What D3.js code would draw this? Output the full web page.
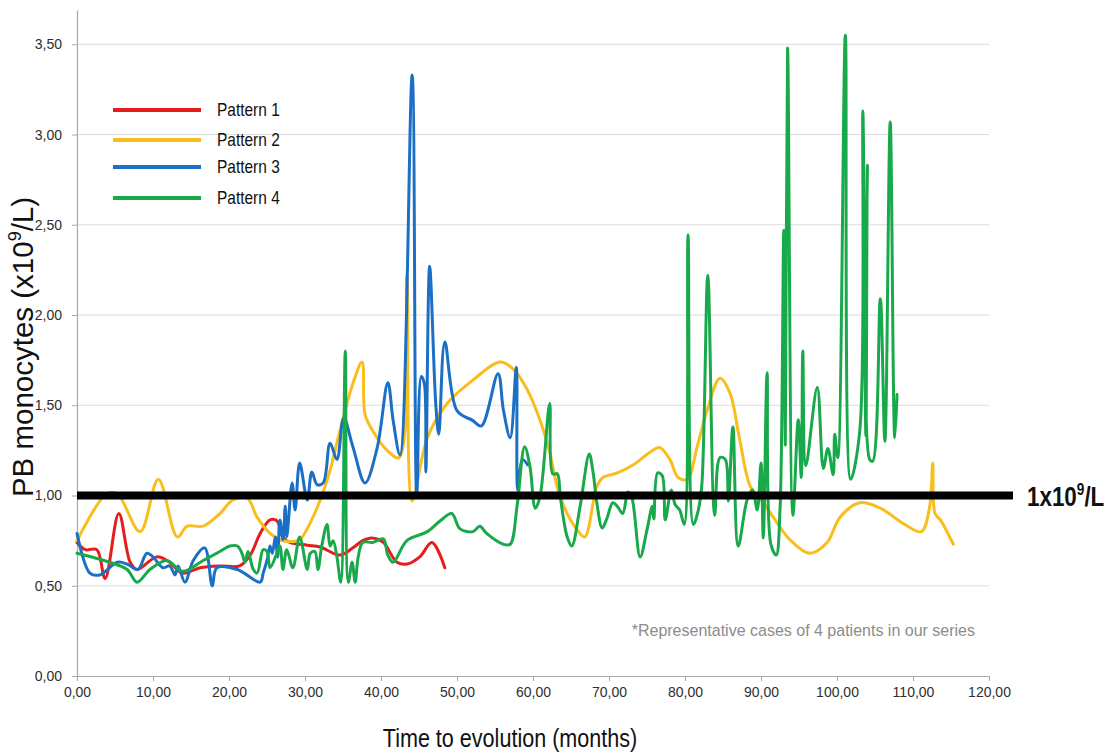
<!DOCTYPE html>
<html>
<head>
<meta charset="utf-8">
<script src="https://cdnjs.cloudflare.com/ajax/libs/d3/7.8.5/d3.min.js"></script>
<style>
  body { margin: 0; background: #fff; }
  svg { display: block; }
</style>
</head>
<body>
<div id="chart"></div>
<script>
// series: [month, monocytes x10^9/L]
const pattern1 = [
  [0, 0.74], [1.1, 0.70], [2.6, 0.70], [3.7, 0.54], [5.5, 0.90], [7.0, 0.63], [7.9, 0.59],
  [10.5, 0.66], [12.2, 0.63], [13.9, 0.57], [16.2, 0.60], [18.8, 0.61], [21.4, 0.61],
  [22.8, 0.67], [24.1, 0.79], [25.4, 0.865], [26.3, 0.86], [27.1, 0.77], [28.0, 0.74],
  [30.3, 0.725], [32.0, 0.715], [34.6, 0.67], [36.3, 0.71], [37.6, 0.75], [38.8, 0.765],
  [40.3, 0.74], [42.1, 0.63], [43.4, 0.62], [45.1, 0.66], [46.7, 0.74], [48.4, 0.60]
];

const pattern2 = [
  [0, 0.75], [3.9, 1.01], [5.3, 1.01], [8.3, 0.80], [10.7, 1.09], [13.2, 0.77], [14.5, 0.83],
  [16.6, 0.83], [18.8, 0.90], [20.5, 0.975], [22.4, 0.985], [23.7, 0.88], [25.4, 0.79],
  [26.7, 0.755], [28.0, 0.745], [29.3, 0.755], [30.7, 0.85], [32.0, 0.975], [33.3, 1.14],
  [34.6, 1.36], [36.3, 1.62], [37.5, 1.74], [37.9, 1.45], [38.9, 1.36], [40.8, 1.25],
  [42.4, 1.21], [43.4, 2.22], [44.1, 0.97], [46.1, 1.32], [48.7, 1.51], [52.1, 1.64],
  [55.7, 1.74], [57.4, 1.70], [59.2, 1.59], [60.9, 1.42], [62.2, 1.24], [63.3, 1.03],
  [64.5, 0.90], [65.8, 0.81], [66.8, 0.77], [68.4, 1.05], [69.2, 1.10], [71.1, 1.125],
  [73.2, 1.17], [75.4, 1.24], [76.7, 1.265], [78.0, 1.20], [79.1, 1.10], [80.3, 1.09],
  [81.6, 1.27], [82.9, 1.47], [84.6, 1.65], [85.9, 1.57], [87.2, 1.31], [88.6, 1.05],
  [90.3, 0.96], [92.1, 0.85], [93.8, 0.755], [96.4, 0.68], [98.7, 0.74], [100.4, 0.88],
  [103.0, 0.96], [105.7, 0.93], [108.9, 0.84], [111.1, 0.80], [112.2, 0.94], [112.6, 1.18],
  [112.9, 0.90], [113.6, 0.865], [115.3, 0.73]
];

const pattern3 = [
  [0, 0.79], [1.7, 0.57], [3.0, 0.56], [5.3, 0.63], [6.6, 0.62], [8.0, 0.59], [9.2, 0.68],
  [10.0, 0.66], [11.3, 0.60], [12.2, 0.61], [12.9, 0.56], [13.3, 0.61], [14.2, 0.52],
  [15.3, 0.64], [16.8, 0.71], [17.8, 0.50], [18.4, 0.60], [21.1, 0.59], [24.1, 0.52],
  [24.5, 0.57], [25.0, 0.64], [25.4, 0.72], [25.7, 0.68], [26.1, 0.77], [26.4, 0.66],
  [26.7, 0.865], [27.1, 0.755], [27.4, 0.94], [27.6, 0.77], [28.3, 1.07], [28.7, 0.92],
  [29.3, 1.18], [30.3, 0.975], [30.9, 1.13], [31.6, 1.06], [32.4, 1.07], [33.3, 1.29],
  [34.2, 1.20], [35.1, 1.43], [36.3, 1.27], [37.9, 1.07], [39.5, 1.265], [40.9, 1.625],
  [41.6, 1.415], [42.5, 1.225], [44.1, 3.33], [44.7, 1.00], [45.3, 1.66], [45.7, 1.62],
  [45.9, 1.13], [46.4, 2.27], [47.2, 1.51], [47.6, 1.34], [48.4, 1.85], [50.0, 1.47],
  [52.1, 1.415], [53.2, 1.385], [55.4, 1.675], [56.1, 1.475], [57.0, 1.32], [57.8, 1.71],
  [58.0, 1.03], [58.6, 1.20], [59.3, 1.17]
];

const pattern4 = [
  [0, 0.68], [4.3, 0.63], [6.6, 0.59], [7.9, 0.52], [9.6, 0.59], [11.8, 0.64], [13.9, 0.58],
  [16.6, 0.64], [18.8, 0.69], [20.1, 0.72], [21.1, 0.72], [21.7, 0.68], [22.1, 0.63],
  [22.5, 0.69], [23.2, 0.59], [23.7, 0.57], [24.5, 0.70], [25.0, 0.69], [25.4, 0.60],
  [26.3, 0.68], [26.7, 0.72], [27.1, 0.59], [27.6, 0.70], [28.4, 0.60], [29.3, 0.77],
  [30.3, 0.59], [30.7, 0.68], [31.3, 0.69], [31.7, 0.59], [32.2, 0.72], [32.9, 0.84],
  [33.3, 0.72], [33.7, 0.75], [34.2, 0.66], [34.7, 0.52], [35.3, 1.80], [35.7, 0.52],
  [36.2, 0.63], [36.6, 0.52], [37.0, 0.66], [37.6, 0.74], [38.9, 0.74], [40.3, 0.76],
  [40.9, 0.67], [41.6, 0.63], [43.4, 0.75], [46.1, 0.80], [47.8, 0.86], [49.3, 0.90],
  [50.4, 0.815], [52.1, 0.80], [53.0, 0.83], [53.9, 0.79], [56.1, 0.73], [57.0, 0.73],
  [57.9, 0.94], [58.9, 1.27], [59.6, 1.16], [60.3, 0.93], [60.9, 0.99], [62.2, 1.51],
  [62.6, 1.12], [63.2, 1.12], [63.6, 0.99], [64.5, 0.77], [65.1, 0.72], [66.2, 0.94],
  [67.4, 1.23], [67.9, 1.13], [68.4, 0.96], [69.1, 0.82], [69.7, 0.87], [70.5, 0.96],
  [71.1, 0.94], [71.8, 0.90], [72.5, 1.02], [73.0, 0.99], [74.1, 0.66], [75.0, 0.81],
  [75.7, 0.94], [75.9, 0.87], [76.4, 1.125], [77.0, 1.11], [77.4, 0.865], [78.2, 1.03],
  [78.7, 0.95], [79.3, 0.92], [79.9, 0.84], [80.4, 2.445], [81.1, 0.84], [81.7, 0.91],
  [82.2, 1.05], [83.0, 2.22], [83.9, 0.89], [84.6, 1.21], [85.3, 1.20], [85.7, 0.97],
  [86.3, 1.38], [87.0, 0.72], [88.2, 0.98], [88.9, 1.03], [89.5, 0.92], [90.0, 1.18],
  [90.3, 0.765], [90.8, 1.68], [91.3, 0.73], [92.0, 0.67], [92.5, 0.92], [93.0, 2.47],
  [93.2, 1.28], [93.5, 3.48], [94.2, 0.89], [94.9, 1.42], [95.3, 1.10], [95.5, 1.80],
  [95.9, 1.165], [97.4, 1.60], [98.2, 1.15], [98.8, 1.26], [99.5, 1.115], [99.7, 1.34],
  [100.1, 1.21], [101.1, 3.55], [101.8, 1.09], [103.0, 1.36], [103.4, 3.13], [103.8, 1.33],
  [104.0, 2.83], [104.3, 1.20], [104.7, 1.19], [105.7, 2.09], [106.3, 1.30], [107.0, 3.07],
  [107.6, 1.32], [107.9, 1.56]
];

const seriesNames = ['Pattern 1', 'Pattern 2', 'Pattern 3', 'Pattern 4'];
const seriesColors = ['#e51d1d', '#f9bd1c', '#1b6fc5', '#18a94b'];
const seriesData = [pattern1, pattern2, pattern3, pattern4];

const xTicks = [0, 10, 20, 30, 40, 50, 60, 70, 80, 90, 100, 110, 120];
const yTicks = [0, 0.5, 1, 1.5, 2, 2.5, 3, 3.5];
const threshold = 1;

const width = 1120;
const height = 755;

const svg = d3.select('#chart')
  .append('svg')
  .attr('width', width)
  .attr('height', height);

svg.append('rect').attr('width', width).attr('height', height).attr('fill', '#fff');

const x = d3.scaleLinear().domain([0, 120]).range([77, 989]);
const y = d3.scaleLinear().domain([0, 3.69]).range([676, 10]);

const fmt = (d) => d3.format('.2f')(d).replace('.', ',');
const sans = "'Liberation Sans', Arial, sans-serif";

// gridlines
svg.append('g')
  .selectAll('line')
  .data(yTicks.filter((d) => d > 0))
  .join('line')
  .attr('x1', x(0))
  .attr('x2', x(120))
  .attr('y1', (d) => y(d))
  .attr('y2', (d) => y(d))
  .attr('stroke', '#dcdcdc')
  .attr('stroke-width', 1);

// axes
const xAxis = svg.append('g')
  .attr('transform', `translate(0,${y(0)})`)
  .call(d3.axisBottom(x).tickValues(xTicks).tickFormat(fmt).tickSize(5).tickSizeOuter(0).tickPadding(6));

const yAxis = svg.append('g')
  .attr('transform', `translate(${x(0)},0)`)
  .call(d3.axisLeft(y).tickValues(yTicks).tickFormat(fmt).tickSize(5).tickSizeOuter(0).tickPadding(10));

[xAxis, yAxis].forEach((g) => {
  g.select('.domain').attr('stroke', '#a8a8a8').attr('stroke-width', 1.2);
  g.selectAll('.tick line').attr('stroke', '#a8a8a8');
  g.selectAll('.tick text')
    .attr('fill', '#2e2e2e')
    .attr('font-family', sans)
    .attr('font-size', 14);
});

// series lines
const line = d3.line()
  .x((d) => x(d[0]))
  .y((d) => y(d[1]))
  .curve(d3.curveCatmullRom.alpha(0.5));

svg.append('g')
  .selectAll('path')
  .data(seriesData)
  .join('path')
  .attr('d', line)
  .attr('fill', 'none')
  .attr('stroke', (d, i) => seriesColors[i])
  .attr('stroke-width', 3)
  .attr('stroke-linejoin', 'round')
  .attr('stroke-linecap', 'round');

// threshold line 1x10^9/L
svg.append('line')
  .attr('x1', x(0))
  .attr('x2', 1013)
  .attr('y1', y(threshold))
  .attr('y2', y(threshold))
  .attr('stroke', '#000')
  .attr('stroke-width', 8);

const thrLabel = svg.append('text')
  .attr('transform', `translate(1027,${y(threshold) + 10}) scale(0.8,1)`)
  .attr('font-family', sans)
  .attr('font-weight', 'bold')
  .attr('font-size', 28)
  .attr('fill', '#111');
thrLabel.append('tspan').text('1x10');
thrLabel.append('tspan').attr('font-size', 17).attr('dy', -11).text('9');
thrLabel.append('tspan').attr('dy', 11).text('/L');

// legend
const legendY = [110, 140, 167, 198];
const legend = svg.append('g')
  .selectAll('g')
  .data(seriesNames)
  .join('g')
  .attr('transform', (d, i) => `translate(0,${legendY[i]})`);

legend.append('line')
  .attr('x1', 113)
  .attr('x2', 201)
  .attr('stroke', (d, i) => seriesColors[i])
  .attr('stroke-width', 4);

legend.append('text')
  .attr('transform', 'translate(217,0) scale(0.86,1)')
  .attr('dy', '0.35em')
  .attr('font-family', sans)
  .attr('font-size', 18)
  .attr('fill', '#111')
  .text((d) => d);

// axis titles
const yTitle = svg.append('text')
  .attr('transform', 'translate(33,347) rotate(-90)')
  .attr('text-anchor', 'middle')
  .attr('font-family', sans)
  .attr('font-size', 29.5)
  .attr('fill', '#111');
yTitle.append('tspan').text('PB monocytes (x10');
yTitle.append('tspan').attr('font-size', 18).attr('dy', -12).text('9');
yTitle.append('tspan').attr('dy', 12).text('/L)');

svg.append('text')
  .attr('transform', 'translate(510,747) scale(0.83,1)')
  .attr('text-anchor', 'middle')
  .attr('font-family', sans)
  .attr('font-size', 26)
  .attr('fill', '#111')
  .text('Time to evolution (months)');

svg.append('text')
  .attr('x', 975)
  .attr('y', 636)
  .attr('text-anchor', 'end')
  .attr('font-family', sans)
  .attr('font-size', 16)
  .attr('fill', '#8c8c8c')
  .text('*Representative cases of 4 patients in our series');
</script>
</body>
</html>
